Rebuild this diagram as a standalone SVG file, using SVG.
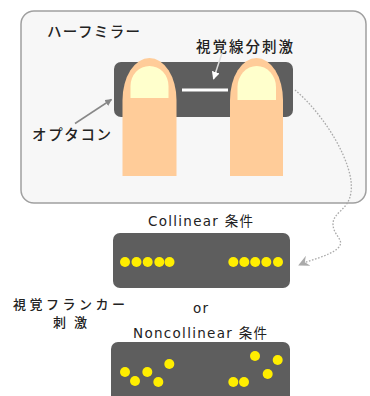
<svg xmlns="http://www.w3.org/2000/svg" width="370" height="396" viewBox="0 0 370 396">
  <style>
    .jp { font-family: "Noto Sans CJK JP", "DejaVu Sans", sans-serif; font-size: 14.5px; font-weight: 500; fill: #222; }
    .jp.small { font-size: 13px; }
    .lat { font-family: "DejaVu Sans", "Noto Sans CJK JP", sans-serif; font-size: 13.5px; fill: #222; }
    .panel { fill: #5e5e5e; }
    .finger { fill: #ffcc99; }
    .nail { fill: #ffffcc; }
    .dot { fill: #ffee00; }
  </style>
  <defs>
    <marker id="headGray" viewBox="0 0 10 10" refX="9" refY="5" markerWidth="7" markerHeight="7" orient="auto" markerUnits="userSpaceOnUse">
      <path d="M0,0 L10,5 L0,10 z" fill="#888"/>
    </marker>
    <marker id="headWhite" viewBox="0 0 10 10" refX="9" refY="5" markerWidth="8" markerHeight="8" orient="auto" markerUnits="userSpaceOnUse">
      <path d="M0,0 L10,5 L0,10 z" fill="#ffffff"/>
    </marker>
    <marker id="headOpen" viewBox="0 0 12 12" refX="11" refY="6" markerWidth="11" markerHeight="11" orient="auto" markerUnits="userSpaceOnUse">
      <path d="M0,0 L12,6 L0,12 L4,6 z" fill="#aaa"/>
    </marker>
  </defs>

  <!-- half mirror enclosure -->
  <g id="halfmirror">
    <rect x="21" y="11" width="345" height="192" rx="13" fill="#f7f7f7" stroke="#a0a0a0" stroke-width="1.5"/>
    <text class="jp" x="47" y="37" textLength="93" lengthAdjust="spacing">ハーフミラー</text>
  </g>

  <!-- optacon display with fingers -->
  <g id="optacon">
    <rect class="panel" x="114" y="62" width="179" height="55" rx="7"/>
    <rect x="182" y="88.5" width="46" height="3" fill="#ffffff"/>
    <path class="finger" d="M122.5,176 V100 A27,42 0 0 1 176.5,100 V176 Z"/>
    <path class="nail" d="M130.5,98 V86 A19,20 0 0 1 168.5,86 V98 Z"/>
    <path class="finger" d="M230,176 V100 A26.5,42 0 0 1 283,100 V176 Z"/>
    <path class="nail" d="M237.5,100 V87 A19.25,21 0 0 1 276,87 V100 Z"/>
  </g>

  <g id="label-stimulus">
    <text class="jp" x="196" y="51.5" textLength="97" lengthAdjust="spacing">視覚線分刺激</text>
  </g>
  <g id="label-optacon">
    <text class="jp" x="32" y="140" textLength="79" lengthAdjust="spacing">オプタコン</text>
  </g>

  <!-- collinear condition -->
  <g id="collinear">
    <text class="lat" x="148" y="226" textLength="105" lengthAdjust="spacing">Collinear 条件</text>
    <rect class="panel" x="113" y="233" width="177" height="55" rx="7"/>
    <circle class="dot" cx="125" cy="262" r="5"/>
    <circle class="dot" cx="136.5" cy="262" r="5"/>
    <circle class="dot" cx="147.7" cy="262" r="5"/>
    <circle class="dot" cx="159.3" cy="262" r="5"/>
    <circle class="dot" cx="169.5" cy="262" r="5"/>
    <circle class="dot" cx="233.3" cy="262" r="5"/>
    <circle class="dot" cx="244.3" cy="262" r="5"/>
    <circle class="dot" cx="255.2" cy="262" r="5"/>
    <circle class="dot" cx="266.3" cy="262" r="5"/>
    <circle class="dot" cx="278" cy="262" r="5"/>
  </g>

  <g id="label-flanker">
    <text class="jp small" x="13" y="308.5" textLength="112" lengthAdjust="spacing">視覚フランカー</text>
    <text class="jp small" x="53" y="327" textLength="34" lengthAdjust="spacing">刺激</text>
  </g>

  <g id="label-or">
    <text class="lat" x="193" y="312.5" textLength="15" lengthAdjust="spacing">or</text>
  </g>

  <!-- noncollinear condition -->
  <g id="noncollinear">
    <text class="lat" x="133" y="338" textLength="134" lengthAdjust="spacing">Noncollinear 条件</text>
    <rect class="panel" x="111" y="342" width="179" height="64" rx="7"/>
    <circle class="dot" cx="125" cy="372" r="5"/>
    <circle class="dot" cx="135" cy="381" r="5"/>
    <circle class="dot" cx="147.3" cy="372" r="5"/>
    <circle class="dot" cx="158.3" cy="382" r="5"/>
    <circle class="dot" cx="169.3" cy="364" r="5"/>
    <circle class="dot" cx="233.3" cy="382" r="5"/>
    <circle class="dot" cx="244" cy="382" r="5"/>
    <circle class="dot" cx="255" cy="356" r="5"/>
    <circle class="dot" cx="267.7" cy="374" r="5"/>
    <circle class="dot" cx="277.7" cy="360" r="5"/>
  </g>

  <!-- connectors -->
  <g id="connectors" fill="none">
    <line x1="222" y1="53" x2="213.5" y2="79" stroke="#dddddd" stroke-width="1.5" marker-end="url(#headWhite)"/>
    <line x1="75" y1="123.5" x2="111.5" y2="99.5" stroke="#888" stroke-width="1.5" marker-end="url(#headGray)"/>
    <path d="M295,90 C325,115 355,165 351,192 C349,210 333,212 333,224 C333,236 346,240 338,248 C330,256 312,259 299,265" stroke="#aaa" stroke-width="1.3" stroke-dasharray="1.6,1.6" marker-end="url(#headOpen)"/>
  </g>
</svg>
